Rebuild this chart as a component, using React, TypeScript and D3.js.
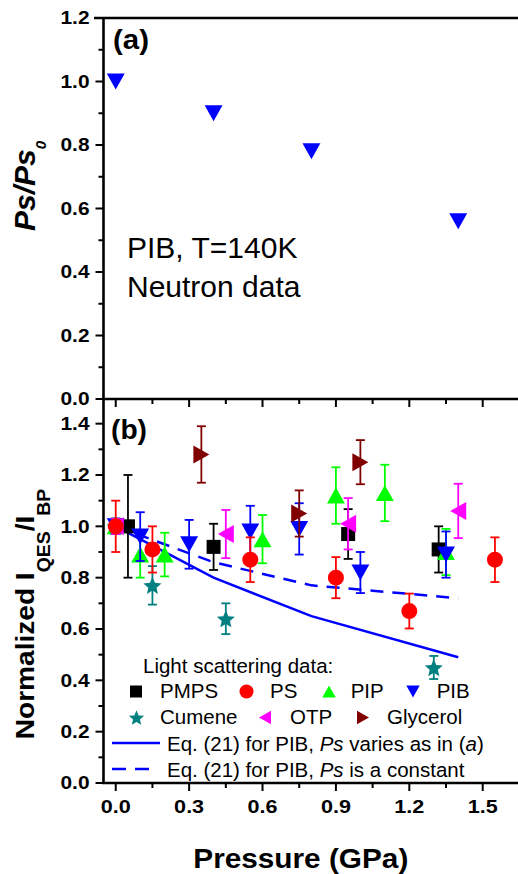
import React from 'react'
import * as d3 from 'd3'

// panel (a): neutron data, PIB at 140 K
const neutronP = [0, 0.4, 0.8, 1.4]
const neutronPs = [1.0, 0.9, 0.78, 0.56]

// panel (b): light scattering, [pressure, value, error]
const pmps = [[0.05, 1.0, 0.2], [0.4, 0.92, 0.09], [0.95, 0.97, 0.097], [1.32, 0.91, 0.09]]
const ps = [[0, 1.0, 0.1], [0.15, 0.91, 0.09], [0.55, 0.87, 0.087], [0.9, 0.8, 0.08], [1.2, 0.67, 0.068], [1.55, 0.87, 0.087]]
const pip = [[0, 1.0, 0.03], [0.1, 0.89, 0.09], [0.2, 0.89, 0.085], [0.6, 0.95, 0.094], [0.9, 1.12, 0.11], [1.1, 1.13, 0.11], [1.35, 0.9, 0.09]]
const pib = [[0, 1.0, 0.03], [0.1, 0.96, 0.095], [0.3, 0.93, 0.095], [0.55, 0.98, 0.1], [0.75, 0.99, 0.1], [1.0, 0.82, 0.08], [1.35, 0.89, 0.09]]
const cumene = [[0, 1.0, 0.03], [0.15, 0.77, 0.075], [0.45, 0.64, 0.06], [1.3, 0.45, 0.045]]
const otp = [[0, 1.0, 0.03], [0.45, 0.97, 0.094], [0.95, 1.01, 0.1], [1.4, 1.06, 0.106]]
const glycerol = [[0.35, 1.28, 0.11], [0.75, 1.05, 0.09], [1.0, 1.25, 0.086]]

// Eq. (21) curves
const eqP = [0, 0.4, 0.8, 1.4]
const eqVaries = [1.0, 0.8, 0.65, 0.49]
const eqConst = [1.0, 0.86, 0.77, 0.72]

const xTicks = [0, 0.3, 0.6, 0.9, 1.2, 1.5]
const yaTicks = [0, 0.2, 0.4, 0.6, 0.8, 1.0, 1.2]
const ybTicks = [0, 0.2, 0.4, 0.6, 0.8, 1.0, 1.2, 1.4]

const FONT = 'Liberation Sans, Arial, sans-serif'

const x = d3.scaleLinear().domain([-0.05, 1.65]).range([103.5, 519.4])
const ya = d3.scaleLinear().domain([0, 1.2]).range([399, 18])
const yb = d3.scaleLinear().domain([0, 1.5]).range([783, 398])

function starPath(r) {
  const ri = r * 0.45
  return d3.range(10).map(i => {
    const a = -Math.PI / 2 + i * Math.PI / 5
    const rr = i % 2 ? ri : r
    return (i ? 'L' : 'M') + (rr * Math.cos(a)).toFixed(2) + ',' + (rr * Math.sin(a)).toFixed(2)
  }).join('') + 'Z'
}

function Marker({ kind, cx, cy, s, color }) {
  const w = s * 1.12, h = s
  if (kind === 'square') return <rect x={cx - s / 2} y={cy - s / 2} width={s} height={s} fill={color} />
  if (kind === 'circle') return <circle cx={cx} cy={cy} r={s / 2} fill={color} />
  if (kind === 'star') return <path d={starPath(s / 2)} transform={`translate(${cx},${cy + s * 0.05})`} fill={color} />
  let pts
  if (kind === 'up') pts = [[cx, cy - h / 2], [cx + w / 2, cy + h / 2], [cx - w / 2, cy + h / 2]]
  else if (kind === 'down') pts = [[cx, cy + h / 2], [cx + w / 2, cy - h / 2], [cx - w / 2, cy - h / 2]]
  else if (kind === 'left') pts = [[cx - h / 2, cy], [cx + h / 2, cy - w / 2], [cx + h / 2, cy + w / 2]]
  else pts = [[cx + h / 2, cy], [cx - h / 2, cy - w / 2], [cx - h / 2, cy + w / 2]]
  return <polygon points={pts.map(p => p.join(',')).join(' ')} fill={color} />
}

const series = [
  { name: 'PMPS', data: pmps, color: '#000000', kind: 'square', s: 14 },
  { name: 'PIP', data: pip, color: '#00ff00', kind: 'up', s: 16 },
  { name: 'PIB', data: pib, color: '#0000ff', kind: 'down', s: 16 },
  { name: 'Cumene', data: cumene, color: '#008080', kind: 'star', s: 19 },
  { name: 'OTP', data: otp, color: '#ff00ff', kind: 'left', s: 16 },
  { name: 'Glycerol', data: glycerol, color: '#800000', kind: 'right', s: 16 },
  { name: 'PS', data: ps, color: '#ff0000', kind: 'circle', s: 16 },
]
const byName = Object.fromEntries(series.map(d => [d.name, d]))

// legend layout
const legendRows = [
  { y: 698, items: [['PMPS', 136, 160], ['PS', 246.5, 270], ['PIP', 329, 350.7], ['PIB', 413, 436.7]] },
  { y: 724, items: [['Cumene', 136.5, 160], ['OTP', 265, 290], ['Glycerol', 363, 387]] },
]
const legendSize = { square: 12, circle: 14, up: 12, down: 12, left: 12, right: 12, star: 16 }

const line = d3.line<number>().x((d, i) => x(eqP[i])).y(d => yb(d))

export default function App() {
  const xMinor = xTicks.slice(0, -1).map(t => t + 0.15)
  const yaMinor = yaTicks.slice(0, -1).map(t => t + 0.1)
  const ybMinor = ybTicks.slice(0, -1).map(t => t + 0.1)
  const fmt = d3.format('.1f')
  const tickLabel = { fontFamily: FONT, fontWeight: 'bold', fontSize: 17.5 }

  return (
    <svg width={518} height={874} style={{ position: 'absolute', left: 0, top: 0, background: '#fff' }}>
      <rect width={518} height={874} fill="#fff" />

      {/* panel (a) data */}
      {neutronP.map((p, i) => (
        <Marker key={'n' + i} kind="down" cx={x(p)} cy={ya(neutronPs[i])} s={16} color="#0000ff" />
      ))}
      <text x={127} y={258} fontFamily={FONT} fontSize={30}>PIB, T=140K</text>
      <text x={127} y={297} fontFamily={FONT} fontSize={30}>Neutron data</text>
      <text x={113} y={49} fontFamily={FONT} fontWeight="bold" fontSize={28} textLength={36} lengthAdjust="spacingAndGlyphs">(a)</text>

      {/* panel (b) lines */}
      <path d={line(eqVaries)} fill="none" stroke="#0000ff" strokeWidth={2.5} />
      <path d={line(eqConst)} fill="none" stroke="#0000ff" strokeWidth={2.5} strokeDasharray="13 9" />

      {/* panel (b) series */}
      {series.map(sr => (
        <g key={sr.name}>
          {sr.data.map(([p, v, e], i) => {
            const cx = x(p)
            return (
              <g key={i}>
                <g stroke={sr.color} strokeWidth={1.8}>
                  <line x1={cx} x2={cx} y1={yb(v - e)} y2={yb(v + e)} />
                  <line x1={cx - 4.5} x2={cx + 4.5} y1={yb(v - e)} y2={yb(v - e)} />
                  <line x1={cx - 4.5} x2={cx + 4.5} y1={yb(v + e)} y2={yb(v + e)} />
                </g>
                <Marker kind={sr.kind} cx={cx} cy={yb(v)} s={sr.s} color={sr.color} />
              </g>
            )
          })}
        </g>
      ))}
      <text x={111} y={439} fontFamily={FONT} fontWeight="bold" fontSize={28} textLength={36} lengthAdjust="spacingAndGlyphs">(b)</text>

      {/* legend */}
      <g fontFamily={FONT} fontSize={20.5}>
        <text x={143} y={673}>Light scattering data:</text>
        {legendRows.map(row => row.items.map(([name, mx, tx]) => {
          const sr = byName[name]
          return (
            <g key={name}>
              <Marker kind={sr.kind} cx={mx} cy={row.y - 6.5} s={legendSize[sr.kind]} color={sr.color} />
              <text x={tx} y={row.y}>{name}</text>
            </g>
          )
        }))}
        <line x1={112} x2={160} y1={743} y2={743} stroke="#0000ff" strokeWidth={2.5} />
        <text x={167} y={750.5}>Eq. (21) for PIB, <tspan fontStyle="italic">Ps</tspan> varies as in (<tspan fontStyle="italic">a</tspan>)</text>
        <line x1={112} x2={150} y1={769} y2={769} stroke="#0000ff" strokeWidth={2.5} strokeDasharray="14 9" />
        <text x={167} y={776.5}>Eq. (21) for PIB, <tspan fontStyle="italic">Ps</tspan> is a constant</text>
      </g>

      {/* axes frame */}
      <g stroke="#000" fill="none">
        <line x1={103.5} x2={103.5} y1={18} y2={784} strokeWidth={2.6} />
        <line x1={94} x2={518} y1={18} y2={18} strokeWidth={2.4} />
        <line x1={102} x2={518} y1={399} y2={399} strokeWidth={2.4} />
        <line x1={102} x2={518} y1={783} y2={783} strokeWidth={2.6} />
      </g>

      {/* ticks */}
      <g stroke="#000" strokeWidth={2}>
        {[399, 783].map(y0 => (
          <g key={y0}>
            {xTicks.map(t => <line key={'M' + t} x1={x(t)} x2={x(t)} y1={y0} y2={y0 + 8} />)}
            {xMinor.map(t => <line key={'m' + t} x1={x(t)} x2={x(t)} y1={y0} y2={y0 + 5} />)}
          </g>
        ))}
        {yaTicks.map(t => <line key={'a' + t} x1={95.5} x2={103.5} y1={ya(t)} y2={ya(t)} />)}
        {yaMinor.map(t => <line key={'am' + t} x1={98.5} x2={103.5} y1={ya(t)} y2={ya(t)} />)}
        {ybTicks.map(t => <line key={'b' + t} x1={95.5} x2={103.5} y1={yb(t)} y2={yb(t)} />)}
        {ybMinor.map(t => <line key={'bm' + t} x1={98.5} x2={103.5} y1={yb(t)} y2={yb(t)} />)}
      </g>

      {/* tick labels */}
      <g {...tickLabel}>
        {xTicks.map(t => (
          <text key={'xl' + t} x={x(t)} y={812.5} textAnchor="middle" textLength={30} lengthAdjust="spacingAndGlyphs">{fmt(t)}</text>
        ))}
        {yaTicks.map(t => (
          <text key={'yal' + t} x={89.5} y={ya(t)} dy="0.36em" textAnchor="end" textLength={29} lengthAdjust="spacingAndGlyphs">{fmt(t)}</text>
        ))}
        {ybTicks.map(t => (
          <text key={'ybl' + t} x={89.5} y={yb(t)} dy="0.36em" textAnchor="end" textLength={29} lengthAdjust="spacingAndGlyphs">{fmt(t)}</text>
        ))}
      </g>

      {/* axis titles */}
      <text x={300.8} y={868} textAnchor="middle" fontFamily={FONT} fontWeight="bold" fontSize={28} textLength={215} lengthAdjust="spacingAndGlyphs">Pressure (GPa)</text>
      <text transform="translate(35,186) rotate(-90)" textAnchor="middle" fontFamily={FONT} fontWeight="bold" fontStyle="italic" fontSize={30}>
        Ps/Ps<tspan fontSize={15} dy={11}>0</tspan>
      </text>
      <text transform="translate(34,614) rotate(-90) scale(1.08,1)" textAnchor="middle" fontFamily={FONT} fontWeight="bold" fontSize={26}>
        Normalized I<tspan fontSize={18} dy={16}>QES</tspan><tspan dy={-16}>/I</tspan><tspan fontSize={18} dy={16}>BP</tspan>
      </text>
    </svg>
  )
}
